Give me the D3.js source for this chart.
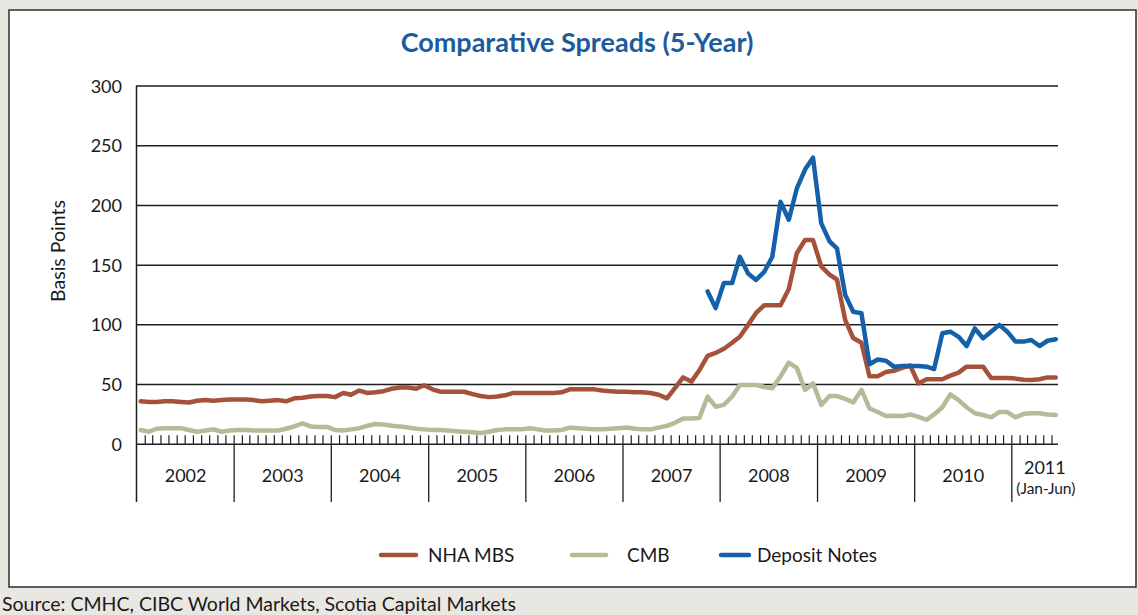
<!DOCTYPE html>
<html>
<head>
<meta charset="utf-8">
<script src="https://cdn.jsdelivr.net/npm/d3@7"></script>
<style>
  html, body { margin: 0; padding: 0; background: #e9e7e1; }
  svg { display: block; font-family: Lato, "Open Sans", sans-serif; }
</style>
</head>
<body>
<svg id="chart" width="1138" height="615"></svg>
<script>
// Monthly spreads in basis points, January 2002 through June 2011
const startYear = 2002;
const yearLabels = ["2002", "2003", "2004", "2005", "2006", "2007", "2008", "2009", "2010", "2011"];
const yTicks = [0, 50, 100, 150, 200, 250, 300];

const nhaMbs = [
  36, 35.5, 35.5, 36, 36, 35.5, 35, 36.5, 37, 36.5, 37, 37.5,          // 2002
  37.5, 37.5, 37, 36, 36.5, 37, 36, 38.5, 39, 40, 40.5, 40.5,          // 2003
  39.5, 43, 41.5, 45, 43, 43.5, 44.5, 46.5, 47.5, 47.5, 46.5, 49.5,    // 2004
  46, 44, 44, 44, 44, 42, 40.5, 39.5, 40, 41, 43, 43,                  // 2005
  43, 43, 43, 43, 43.5, 46, 46, 46, 46, 45, 44.5, 44,                  // 2006
  44, 43.5, 43.5, 43, 41.5, 38.5, 47, 56, 52.5, 62, 74, 76.5,          // 2007
  80, 85, 90, 100, 110, 116.5, 116.5, 116.5, 130, 160, 171, 171,       // 2008
  149, 142, 138, 104, 89, 85, 57, 57, 60.5, 61.5, 64, 66,              // 2009
  51, 54.5, 54.5, 54.5, 57.5, 60, 65, 65, 65, 55.5, 55.5, 55.5,        // 2010
  55, 54, 53.8, 54.5, 56, 56                                           // 2011
];

const cmb = [
  12, 10.5, 13, 13.5, 13.5, 13.5, 12, 10.5, 11.5, 12.5, 10.5, 11.5,    // 2002
  12, 12, 11.5, 11.5, 11.5, 11.5, 13, 15, 17.5, 15, 14.5, 14.5,        // 2003
  12, 11.5, 12.5, 13.5, 15.5, 17, 16.5, 15.5, 15, 14, 13, 12.5,        // 2004
  12, 12, 11.5, 11, 10.5, 10, 9.5, 10.5, 12, 12.5, 12.5, 12.5,         // 2005
  13.5, 12.5, 11.5, 11.5, 12, 14, 13.5, 13, 12.5, 12.5, 13, 13.5,      // 2006
  14, 13, 12.5, 12.5, 14, 15.5, 18, 21.5, 21.7, 22, 40, 31.5,          // 2007
  33, 40, 49.7, 49.7, 49.7, 48, 47, 57, 68.3, 64, 45.5, 51,            // 2008
  33, 40.4, 40.4, 38, 35, 45.5, 30, 27, 23.7, 24, 23.7, 25,            // 2009
  23, 20.5, 25, 31, 41.8, 37, 31, 26, 24.5, 22.6, 27, 27,              // 2010
  22.6, 25.5, 26, 26, 25, 24.5                                         // 2011
];

// Deposit notes are quoted from November 2007 onward
const depositStart = { year: 2007, month: 10 };
const depositNotes = [
  128, 114,                                                            // 2007
  135, 135, 157, 143, 137.6, 144.5, 157, 203, 188, 214, 230, 240,      // 2008
  185, 170, 164, 125, 111, 109.7, 67, 71, 70, 65, 65.5, 65.5,          // 2009
  65.5, 65, 63, 93, 94.3, 90, 82.3, 97, 88.7, 94.3, 100, 94.3,         // 2010
  86, 86, 87.3, 82.3, 86.7, 88                                         // 2011
];

const seriesInfo = [
  { name: "NHA MBS", color: "#a6523a" },
  { name: "CMB", color: "#b9b898" },
  { name: "Deposit Notes", color: "#1561a9" }
];

const svg = d3.select("#chart");

// Outer panel
svg.append("rect")
  .attr("x", 9).attr("y", 10).attr("width", 1127).attr("height", 577)
  .attr("fill", "#ffffff").attr("stroke", "#3a3a3a").attr("stroke-width", 1.6);

// Title
svg.append("text")
  .attr("x", 577).attr("y", 52)
  .attr("text-anchor", "middle")
  .attr("font-size", 27).attr("font-weight", 700)
  .attr("fill", "#1d5c9c")
  .text("Comparative Spreads (5-Year)");

// Scales
const x = d3.scaleTime()
  .domain([new Date(2002, 0, 1), new Date(2011, 6, 1)])
  .range([137, 1060]);
const y = d3.scaleLinear().domain([0, 300]).range([444.3, 86]);

const monthDate = (i, y0 = startYear, m0 = 0) => new Date(y0, m0 + i, 1);
const midMonth = (i, y0 = startYear, m0 = 0) => new Date(y0, m0 + i, 15);

// Horizontal grid lines
svg.append("g")
  .selectAll("line")
  .data(yTicks.filter(d => d > 0))
  .join("line")
  .attr("x1", 136).attr("x2", 1058)
  .attr("y1", d => y(d)).attr("y2", d => y(d))
  .attr("stroke", "#1e1e1e").attr("stroke-width", 1.5);

// Y axis labels
svg.append("g")
  .selectAll("text")
  .data(yTicks)
  .join("text")
  .attr("x", 122).attr("y", d => y(d) + 6.5)
  .attr("text-anchor", "end")
  .attr("font-size", 18).attr("fill", "#1a1a1a")
  .text(d => d);

svg.append("text")
  .attr("transform", "translate(65,251) rotate(-90)")
  .attr("text-anchor", "middle")
  .attr("font-size", 19.5).attr("fill", "#1a1a1a")
  .text("Basis Points");

// X axis: baseline, monthly ticks, year dividers
const axisG = svg.append("g");
axisG.append("line")
  .attr("x1", 136).attr("x2", 1058)
  .attr("y1", y(0)).attr("y2", y(0))
  .attr("stroke", "#1e1e1e").attr("stroke-width", 1.6);

axisG.append("line")
  .attr("x1", 136.5).attr("x2", 136.5)
  .attr("y1", 86).attr("y2", 502)
  .attr("stroke", "#1e1e1e").attr("stroke-width", 1.5);

const monthTicks = d3.range(1, nhaMbs.length).map(i => monthDate(i));
axisG.selectAll("line.mtick")
  .data(monthTicks)
  .join("line")
  .attr("class", "mtick")
  .attr("x1", d => x(d)).attr("x2", d => x(d))
  .attr("y1", y(0)).attr("y2", y(0) - 9)
  .attr("stroke", "#1e1e1e").attr("stroke-width", 1.2);

const yearStarts = yearLabels.slice(1).map(s => new Date(+s, 0, 1));
axisG.selectAll("line.ytick")
  .data(yearStarts)
  .join("line")
  .attr("class", "ytick")
  .attr("x1", d => x(d)).attr("x2", d => x(d))
  .attr("y1", y(0)).attr("y2", 502)
  .attr("stroke", "#1e1e1e").attr("stroke-width", 1.3);

const lastMonth = monthDate(nhaMbs.length);
axisG.selectAll("text.year")
  .data(yearLabels)
  .join("text")
  .attr("class", "year")
  .attr("x", d => {
    const a = new Date(+d, 0, 1);
    const b = d3.min([new Date(+d + 1, 0, 1), lastMonth]);
    return d === "2011" ? x(a) + 33 : (x(a) + x(b)) / 2;
  })
  .attr("y", d => d === "2011" ? 474 : 482)
  .attr("text-anchor", "middle")
  .attr("font-size", 18).attr("fill", "#1a1a1a")
  .text(d => d);

axisG.append("text")
  .attr("x", x(new Date(2011, 0, 1)) + 34).attr("y", 494)
  .attr("text-anchor", "middle")
  .attr("font-size", 15.5).attr("fill", "#1a1a1a")
  .text("(Jan-Jun)");

// Series lines
const line = d3.line()
  .x(d => x(d.date))
  .y(d => y(d.value))
  .curve(d3.curveLinear);

const toPoints = (arr, y0, m0) => arr.map((v, i) => ({ date: midMonth(i, y0, m0), value: v }));

const seriesData = [
  toPoints(nhaMbs, startYear, 0),
  toPoints(cmb, startYear, 0),
  toPoints(depositNotes, depositStart.year, depositStart.month)
];

const drawOrder = [1, 0, 2];
svg.append("g")
  .selectAll("path")
  .data(drawOrder)
  .join("path")
  .attr("d", k => line(seriesData[k]))
  .attr("fill", "none")
  .attr("stroke", k => seriesInfo[k].color)
  .attr("stroke-width", 4.5)
  .attr("stroke-linejoin", "round")
  .attr("stroke-linecap", "round");

// Legend
const legendPos = [
  { x1: 381, x2: 416, tx: 428 },
  { x1: 572, x2: 606, tx: 627 },
  { x1: 721, x2: 749, tx: 757 }
];
const legend = svg.append("g");
legend.selectAll("line")
  .data(seriesInfo)
  .join("line")
  .attr("x1", (d, i) => legendPos[i].x1)
  .attr("x2", (d, i) => legendPos[i].x2)
  .attr("y1", 555).attr("y2", 555)
  .attr("stroke", d => d.color)
  .attr("stroke-width", 4.5)
  .attr("stroke-linecap", "round");
legend.selectAll("text")
  .data(seriesInfo)
  .join("text")
  .attr("x", (d, i) => legendPos[i].tx)
  .attr("y", 561.5)
  .attr("font-size", 19).attr("fill", "#1a1a1a")
  .text(d => d.name);

// Source note
svg.append("text")
  .attr("x", 2).attr("y", 611)
  .attr("font-size", 19.5).attr("fill", "#1a1a1a")
  .text("Source: CMHC, CIBC World Markets, Scotia Capital Markets");
</script>
</body>
</html>
